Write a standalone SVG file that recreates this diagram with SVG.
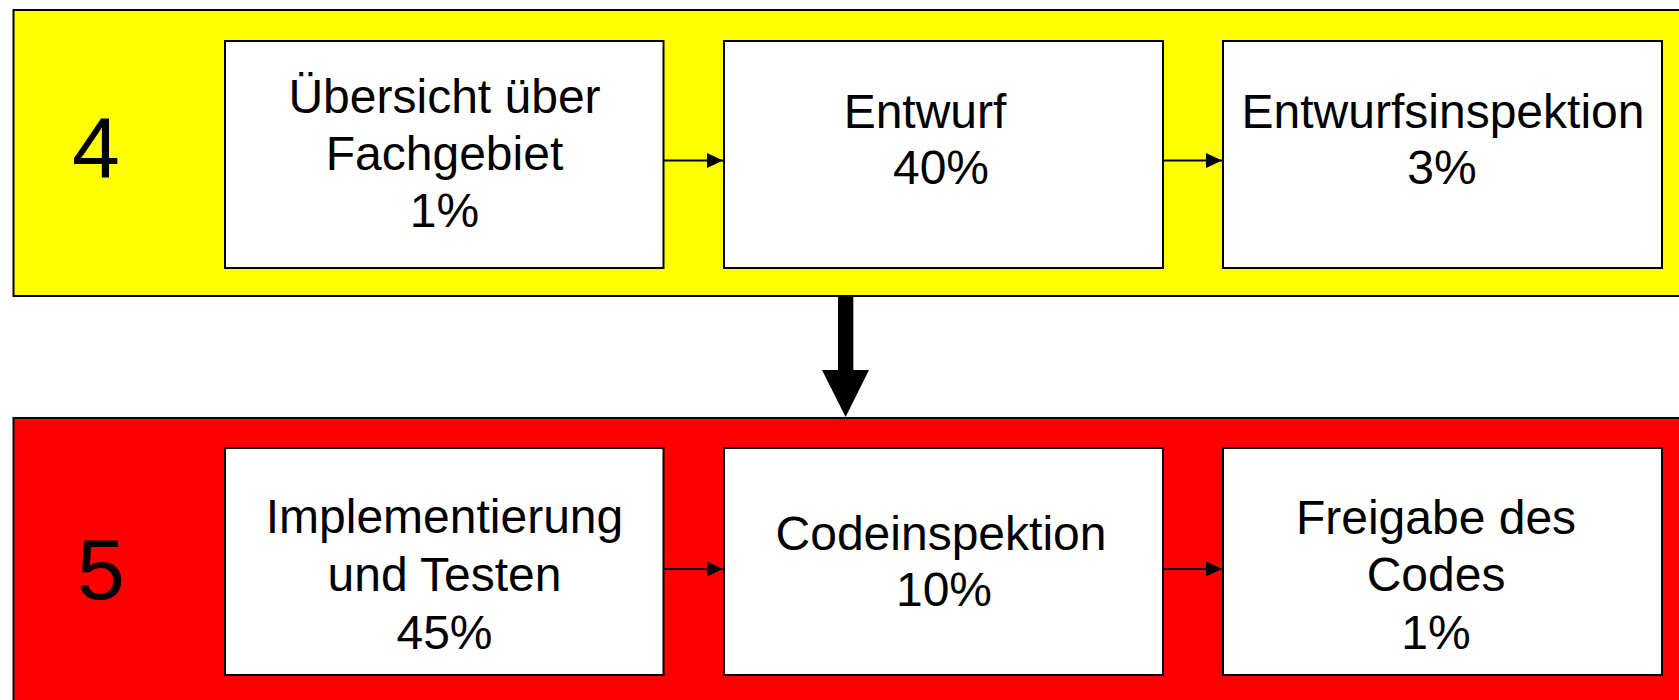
<svg xmlns="http://www.w3.org/2000/svg" width="1679" height="700" viewBox="0 0 1679 700">
<style>
.band{stroke:#000;stroke-width:2}
.box{fill:#fff;stroke:#000;stroke-width:2}
.t{font-family:"Liberation Sans",Arial,sans-serif;font-size:48px;fill:#000;text-anchor:middle}
.num{font-family:"Liberation Sans",Arial,sans-serif;font-size:86px;fill:#000;text-anchor:middle}
.ln{stroke:#000;stroke-width:2;fill:none}
</style>
<defs>
<marker id="ah" markerUnits="userSpaceOnUse" markerWidth="16" markerHeight="15" refX="16" refY="7.5" orient="auto">
<path d="M0,0 L16,7.5 L0,15 Z" fill="#000"/>
</marker>
</defs>
<g id="phase4">
<rect class="band" x="13.5" y="10" width="1680" height="286" fill="#ffff00"/>
<text class="num" x="96" y="177">4</text>
</g>
<g id="phase5">
<rect class="band" x="13.5" y="418" width="1680" height="300" fill="#ff0000"/>
<text class="num" x="101" y="599">5</text>
</g>
<g id="n1">
<rect class="box" x="225" y="41" width="438.5" height="227"/>
<text class="t" x="444.5" y="113">Übersicht über</text>
<text class="t" x="444.5" y="170">Fachgebiet</text>
<text class="t" x="444.5" y="227">1%</text>
</g>
<g id="n2">
<rect class="box" x="724" y="41" width="439" height="227"/>
<text class="t" x="925" y="128">Entwurf</text>
<text class="t" x="941" y="184">40%</text>
</g>
<g id="n3">
<rect class="box" x="1223" y="41" width="439" height="227"/>
<text class="t" x="1443" y="128">Entwurfsinspektion</text>
<text class="t" x="1442" y="184">3%</text>
</g>
<g id="n4">
<rect class="box" x="225" y="448" width="438.5" height="227"/>
<text class="t" x="444.5" y="533">Implementierung</text>
<text class="t" x="444.5" y="591">und Testen</text>
<text class="t" x="444.5" y="649">45%</text>
</g>
<g id="n5">
<rect class="box" x="724" y="448" width="439" height="227"/>
<text class="t" x="941" y="550">Codeinspektion</text>
<text class="t" x="944" y="606">10%</text>
</g>
<g id="n6">
<rect class="box" x="1223" y="448" width="439" height="227"/>
<text class="t" x="1436" y="534">Freigabe des</text>
<text class="t" x="1436" y="591">Codes</text>
<text class="t" x="1436" y="649">1%</text>
</g>
<g id="connectors">
<line class="ln" x1="663.5" y1="160.5" x2="723" y2="160.5" marker-end="url(#ah)"/>
<line class="ln" x1="1163" y1="160.5" x2="1222" y2="160.5" marker-end="url(#ah)"/>
<line class="ln" x1="663.5" y1="569" x2="723" y2="569" marker-end="url(#ah)"/>
<line class="ln" x1="1163" y1="569" x2="1222" y2="569" marker-end="url(#ah)"/>
<path d="M838,297 L853.3,297 L853.3,370 L869,370 L845.6,417 L822,370 L838,370 Z" fill="#000"/>
</g>
</svg>
